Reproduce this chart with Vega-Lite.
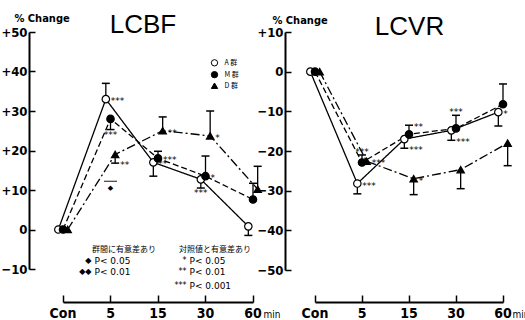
{
  "$schema": "https://vega.github.io/schema/vega-lite/v6.json",
  "padding": {"left": 0, "top": 12, "right": 0, "bottom": 0},
  "autosize": {"type": "pad"},
  "background": "white",
  "spacing": 24,
  "bounds": "flush",
  "config": {
    "view": {"stroke": null},
    "axis": {"grid": false, "domainColor": "black", "tickColor": "black", "labelColor": "black", "titleColor": "black", "labelOverlap": false, "labelFont": "Liberation Sans Narrow, DejaVu Sans Condensed, sans-serif", "titleFont": "Liberation Sans Narrow, DejaVu Sans Condensed, sans-serif"},
    "axisY": {"labelOverlap": false},
    "axisQuantitative": {"labelOverlap": false},
    "text": {"color": "black"}
  },
  "datasets": {
    "lcbf": [
      {"g": "A", "t": "Con", "v": 0},
      {"g": "M", "t": "Con", "v": 0},
      {"g": "D", "t": "Con", "v": 0},
      {"g": "A", "t": "5", "v": 33, "e": 37, "s": "***", "sp": "r"},
      {"g": "M", "t": "5", "v": 28, "e": 25.3, "s": "***", "sp": "b"},
      {"g": "D", "t": "5", "v": 19, "e": 16.8, "s": "**", "sp": "e"},
      {"g": "A", "t": "15", "v": 17, "e": 13.5, "s": "**", "sp": "r"},
      {"g": "M", "t": "15", "v": 18, "e": 19.8, "s": "***", "sp": "r"},
      {"g": "D", "t": "15", "v": 25, "e": 28.5, "s": "**", "sp": "r"},
      {"g": "A", "t": "30", "v": 12.7, "e": 10.5, "s": "***", "sp": "b"},
      {"g": "M", "t": "30", "v": 13.5, "e": 18.6, "s": "*", "sp": "r"},
      {"g": "D", "t": "30", "v": 23.7, "e": 30, "s": "*", "sp": "r"},
      {"g": "A", "t": "60", "v": 0.8, "e": -1.5},
      {"g": "M", "t": "60", "v": 7.6, "e": 11.7},
      {"g": "D", "t": "60", "v": 10.2, "e": 16}
    ],
    "lcvr": [
      {"g": "A", "t": "Con", "v": 0},
      {"g": "M", "t": "Con", "v": 0},
      {"g": "D", "t": "Con", "v": 0},
      {"g": "A", "t": "5", "v": -28.2, "e": -30.8, "s": "***", "sp": "r"},
      {"g": "M", "t": "5", "v": -22.9, "e": -21, "s": "***", "sp": "a"},
      {"g": "D", "t": "5", "v": -22.6, "s": "***", "sp": "r"},
      {"g": "A", "t": "15", "v": -17, "e": -19.3, "s": "***", "sp": "e"},
      {"g": "M", "t": "15", "v": -15.8, "e": -13.5, "s": "**", "sp": "e"},
      {"g": "D", "t": "15", "v": -27, "e": -31, "s": "*", "sp": "r"},
      {"g": "A", "t": "30", "v": -14.8, "e": -17.3, "s": "***", "sp": "e"},
      {"g": "M", "t": "30", "v": -14.3, "e": -11, "s": "***", "sp": "a"},
      {"g": "D", "t": "30", "v": -24.7, "e": -29.5},
      {"g": "A", "t": "60", "v": -10.2, "e": -13.7, "s": "*", "sp": "r"},
      {"g": "M", "t": "60", "v": -8.2, "e": -3.1},
      {"g": "D", "t": "60", "v": -18, "e": -23.7}
    ],
    "key": [
      {"g": "A", "t": "30", "y": 42.2, "lab": "A 群"},
      {"g": "M", "t": "30", "y": 39.2, "lab": "M 群"},
      {"g": "D", "t": "30", "y": 36.4, "lab": "D 群"}
    ],
    "sig": [{"t": "5", "v": 12.2, "m": "◆"}],
    "head": [
      {"t": "15", "y": -5.1, "txt": "群間に有意差あり"},
      {"t": "60", "y": -5.1, "txt": "対照値と有意差あり"}
    ],
    "notes": [
      {"t": "5", "y": -7.9, "sym": "◆", "txt": "P< 0.05"},
      {"t": "5", "y": -10.7, "sym": "◆◆", "txt": "P< 0.01"},
      {"t": "30", "y": -7.9, "sym": "*", "txt": "P< 0.05"},
      {"t": "30", "y": -10.7, "sym": "**", "txt": "P< 0.01"},
      {"t": "30", "y": -14.2, "sym": "***", "txt": "P< 0.001"}
    ]
  },
  "hconcat": [
    {
      "width": 232,
      "height": 237,
      "title": {"text": "LCBF", "font": "Liberation Sans, Arial, sans-serif", "fontSize": 26, "fontWeight": "normal", "color": "black", "offset": -26, "dx": -2},
      "encoding": {
        "x": {"field": "t", "type": "ordinal", "scale": {"type": "band", "domain": ["Con", "5", "15", "30", "60"], "range": [34, 224], "paddingInner": 1, "paddingOuter": 0},
          "axis": {"title": "min", "titleX": 234, "titleY": 15, "titleAlign": "left", "titleBaseline": "alphabetic", "titleFontSize": 10, "titleFontWeight": "normal", "offset": 33, "tickSize": -7, "tickWidth": 1.5, "domainWidth": 2, "labelFontSize": 14, "labelFontWeight": "bold", "labelAngle": 0, "labelPadding": 11}},
        "y": {"field": "v", "type": "quantitative", "scale": {"domain": [-10, 50], "nice": false, "zero": false},
          "axis": {"title": "% Change", "titleAngle": 0, "titleAlign": "left", "titleBaseline": "alphabetic", "titleX": -15, "titleY": -11, "titleFontSize": 11, "titleFontWeight": "bold", "values": [-10, 0, 10, 20, 30, 40, 50], "labelOverlap": false, "labelSeparation": 0, "labelExpr": "datum.value > 0 ? '+' + datum.label : datum.label", "tickSize": -6, "tickWidth": 1.5, "domainWidth": 2, "labelFontSize": 13, "labelFontWeight": "bold", "labelPadding": 8}}
      },
      "layer": [
        {"data": {"name": "lcbf"}, "mark": {"type": "line", "stroke": "black", "strokeWidth": 1.3},
          "encoding": {"xOffset": {"field": "g", "type": "nominal", "scale": {"type": "point", "domain": ["A", "M", "D"], "range": [-7, 7]}},
            "strokeDash": {"field": "g", "type": "nominal", "scale": {"domain": ["A", "M", "D"], "range": [[1, 0], [6, 3], [9, 3, 2, 3]]}, "legend": null}}},
        {"data": {"name": "lcbf"}, "transform": [{"filter": "isValid(datum.e)"}], "mark": {"type": "rule", "stroke": "black", "strokeWidth": 1.3},
          "encoding": {"xOffset": {"field": "g", "type": "nominal"}, "y2": {"field": "e"}}},
        {"data": {"name": "lcbf"}, "transform": [{"filter": "isValid(datum.e)"}], "mark": {"type": "tick", "color": "black", "thickness": 1.5, "size": 8, "orient": "horizontal", "opacity": 1},
          "encoding": {"xOffset": {"field": "g", "type": "nominal"}, "y": {"field": "e", "type": "quantitative"}}},
        {"data": {"name": "lcbf"}, "mark": {"type": "point", "filled": true, "stroke": "black", "strokeWidth": 1.2, "size": 55, "opacity": 1},
          "encoding": {"xOffset": {"field": "g", "type": "nominal"},
            "shape": {"field": "g", "type": "nominal", "scale": {"domain": ["A", "M", "D"], "range": ["circle", "circle", "triangle-up"]}, "legend": null},
            "fill": {"field": "g", "type": "nominal", "scale": {"domain": ["A", "M", "D"], "range": ["white", "black", "black"]}, "legend": null}}},
        {"data": {"name": "key"}, "mark": {"type": "point", "filled": true, "stroke": "black", "strokeWidth": 1, "size": 40, "opacity": 1, "xOffset": 9},
          "encoding": {"y": {"field": "y", "type": "quantitative"},
            "shape": {"field": "g", "type": "nominal", "legend": null},
            "fill": {"field": "g", "type": "nominal", "legend": null}}},
        {"data": {"name": "key"}, "mark": {"type": "text", "align": "left", "baseline": "middle", "dx": 19, "fontSize": 7, "font": "Noto Sans CJK JP"},
          "encoding": {"y": {"field": "y", "type": "quantitative"}, "text": {"field": "lab"}}},
        {"data": {"name": "lcbf"}, "transform": [{"filter": "datum.sp === 'r'"}], "mark": {"type": "text", "align": "left", "baseline": "middle", "dx": 5, "dy": 2, "fontSize": 9, "font": "DejaVu Sans"},
          "encoding": {"xOffset": {"field": "g", "type": "nominal"}, "text": {"field": "s"}}},
        {"data": {"name": "lcbf"}, "transform": [{"filter": "datum.sp === 'e'"}], "mark": {"type": "text", "align": "left", "baseline": "middle", "dx": 5, "dy": 2, "fontSize": 9, "font": "DejaVu Sans"},
          "encoding": {"xOffset": {"field": "g", "type": "nominal"}, "y": {"field": "e", "type": "quantitative"}, "text": {"field": "s"}}},
        {"data": {"name": "lcbf"}, "transform": [{"filter": "datum.sp === 'b'"}], "mark": {"type": "text", "align": "center", "baseline": "top", "dy": 1, "fontSize": 9, "font": "DejaVu Sans"},
          "encoding": {"xOffset": {"field": "g", "type": "nominal"}, "y": {"field": "e", "type": "quantitative"}, "text": {"field": "s"}}},
        {"data": {"name": "sig"}, "mark": {"type": "tick", "color": "black", "thickness": 1.3, "size": 13, "orient": "horizontal"},
          "encoding": {}},
        {"data": {"name": "sig"}, "mark": {"type": "text", "align": "center", "baseline": "top", "dy": 3, "fontSize": 7, "font": "DejaVu Sans"},
          "encoding": {"text": {"field": "m"}}},
        {"data": {"name": "head"}, "mark": {"type": "text", "align": "right", "baseline": "middle", "dx": -2, "fontSize": 8, "font": "Noto Sans CJK JP"},
          "encoding": {"y": {"field": "y", "type": "quantitative"}, "text": {"field": "txt"}}},
        {"data": {"name": "notes"}, "mark": {"type": "text", "align": "right", "baseline": "middle", "dx": -19, "fontSize": 8, "font": "DejaVu Sans"},
          "encoding": {"y": {"field": "y", "type": "quantitative"}, "text": {"field": "sym"}}},
        {"data": {"name": "notes"}, "mark": {"type": "text", "align": "left", "baseline": "middle", "dx": -16, "fontSize": 9, "font": "DejaVu Sans"},
          "encoding": {"y": {"field": "y", "type": "quantitative"}, "text": {"field": "txt"}}}
      ]
    },
    {
      "width": 225,
      "height": 238,
      "title": {"text": "LCVR", "font": "Liberation Sans, Arial, sans-serif", "fontSize": 26, "fontWeight": "normal", "color": "black", "offset": -26, "dx": 12},
      "encoding": {
        "x": {"field": "t", "type": "ordinal", "scale": {"type": "band", "domain": ["Con", "5", "15", "30", "60"], "range": [30, 218], "paddingInner": 1, "paddingOuter": 0},
          "axis": {"title": "min", "titleX": 227, "titleY": 15, "titleAlign": "left", "titleBaseline": "alphabetic", "titleFontSize": 10, "titleFontWeight": "normal", "offset": 32, "tickSize": -7, "tickWidth": 1.5, "domainWidth": 2, "labelFontSize": 14, "labelFontWeight": "bold", "labelAngle": 0, "labelPadding": 11}},
        "y": {"field": "v", "type": "quantitative", "scale": {"domain": [-50, 10], "nice": false, "zero": false},
          "axis": {"title": "% Change", "titleAngle": 0, "titleAlign": "left", "titleBaseline": "alphabetic", "titleX": -13, "titleY": -9, "titleFontSize": 11, "titleFontWeight": "bold", "values": [-50, -40, -30, -20, -10, 0, 10], "labelOverlap": false, "labelSeparation": 0, "labelExpr": "datum.value > 0 ? '+' + datum.label : datum.label", "tickSize": -6, "tickWidth": 1.5, "domainWidth": 2, "labelFontSize": 13, "labelFontWeight": "bold", "labelPadding": 8}}
      },
      "layer": [
        {"data": {"name": "lcvr"}, "mark": {"type": "line", "stroke": "black", "strokeWidth": 1.3},
          "encoding": {"xOffset": {"field": "g", "type": "nominal", "scale": {"type": "point", "domain": ["A", "M", "D"], "range": [-7, 7]}},
            "strokeDash": {"field": "g", "type": "nominal", "scale": {"domain": ["A", "M", "D"], "range": [[1, 0], [6, 3], [9, 3, 2, 3]]}, "legend": null}}},
        {"data": {"name": "lcvr"}, "transform": [{"filter": "isValid(datum.e)"}], "mark": {"type": "rule", "stroke": "black", "strokeWidth": 1.3},
          "encoding": {"xOffset": {"field": "g", "type": "nominal"}, "y2": {"field": "e"}}},
        {"data": {"name": "lcvr"}, "transform": [{"filter": "isValid(datum.e)"}], "mark": {"type": "tick", "color": "black", "thickness": 1.5, "size": 8, "orient": "horizontal", "opacity": 1},
          "encoding": {"xOffset": {"field": "g", "type": "nominal"}, "y": {"field": "e", "type": "quantitative"}}},
        {"data": {"name": "lcvr"}, "mark": {"type": "point", "filled": true, "stroke": "black", "strokeWidth": 1.2, "size": 55, "opacity": 1},
          "encoding": {"xOffset": {"field": "g", "type": "nominal"},
            "shape": {"field": "g", "type": "nominal", "scale": {"domain": ["A", "M", "D"], "range": ["circle", "circle", "triangle-up"]}, "legend": null},
            "fill": {"field": "g", "type": "nominal", "scale": {"domain": ["A", "M", "D"], "range": ["white", "black", "black"]}, "legend": null}}},
        {"data": {"name": "lcvr"}, "transform": [{"filter": "datum.sp === 'r'"}], "mark": {"type": "text", "align": "left", "baseline": "middle", "dx": 5, "dy": 2, "fontSize": 9, "font": "DejaVu Sans"},
          "encoding": {"xOffset": {"field": "g", "type": "nominal"}, "text": {"field": "s"}}},
        {"data": {"name": "lcvr"}, "transform": [{"filter": "datum.sp === 'e'"}], "mark": {"type": "text", "align": "left", "baseline": "middle", "dx": 5, "dy": 2, "fontSize": 9, "font": "DejaVu Sans"},
          "encoding": {"xOffset": {"field": "g", "type": "nominal"}, "y": {"field": "e", "type": "quantitative"}, "text": {"field": "s"}}},
        {"data": {"name": "lcvr"}, "transform": [{"filter": "datum.sp === 'a'"}], "mark": {"type": "text", "align": "center", "baseline": "bottom", "dy": 2, "fontSize": 9, "font": "DejaVu Sans"},
          "encoding": {"xOffset": {"field": "g", "type": "nominal"}, "y": {"field": "e", "type": "quantitative"}, "text": {"field": "s"}}}
      ]
    }
  ]
}
